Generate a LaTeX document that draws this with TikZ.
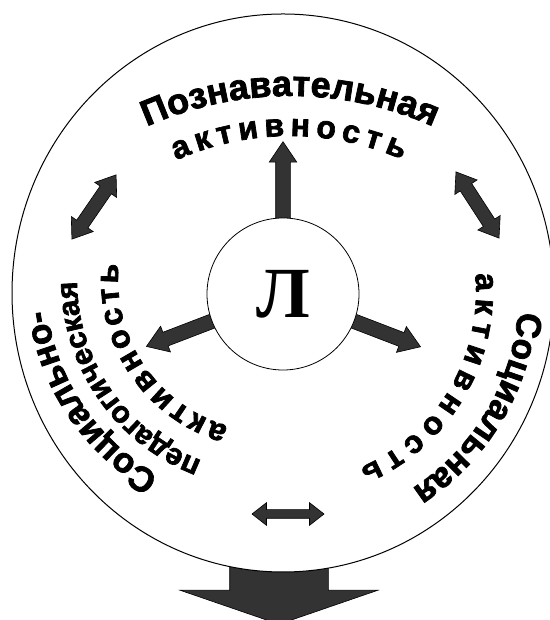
\documentclass[tikz,border=0pt]{standalone}
\usepackage{fontspec}
\setmainfont{Liberation Serif}
\newfontfamily\heavyfont[FakeBold=2.2]{Liberation Sans Bold}
\usetikzlibrary{shapes.arrows,decorations.text}
\definecolor{arrowgray}{RGB}{51,51,51}
\newcommand\namefont{\heavyfont\fontsize{36}{40}\selectfont}
\newcommand\sidefont{\heavyfont\fontsize{35}{40}\selectfont}
\newcommand\pedfont{\heavyfont\fontsize{30}{34}\selectfont}
\newcommand\actfont{\heavyfont\fontsize{32}{34}\selectfont}

\begin{document}
\begin{tikzpicture}[x=1pt,y=1pt,
  blockarrow/.style={single arrow,draw=black,fill=arrowgray,line width=0.6pt,inner xsep=0pt,
    inner ysep=7pt,single arrow head extend=6.5pt,single arrow tip angle=68},
  twoway/.style={double arrow,draw=black,fill=arrowgray,line width=0.6pt,inner xsep=0pt,
    inner ysep=6.5pt,double arrow head extend=6.5pt,double arrow tip angle=72},
  arcword/.style={decorate,decoration={text along path,text align=center,text={#1}}},
  spaced/.style={decorate,decoration={text along path,text align={fit to path},text={#1}}}]
\useasboundingbox (0,0) rectangle (549,620);
% result arrow under the circle
\node[blockarrow,rotate=-90,anchor=tail,minimum height=84pt,inner ysep=49pt,
  single arrow head extend=49.5pt,single arrow tip angle=142] (res) at (279,80) {};
\draw[fill=white,line width=1pt] (283,327) ellipse[x radius=271,y radius=279];
% personality and its three activities
\coordinate (c) at (283,326);
\node[blockarrow,rotate=90,anchor=tail,minimum height=86pt] (up) at ([shift={(90:66)}]c) {};
\node[blockarrow,rotate=201,anchor=tail,minimum height=80pt] (left) at ([shift={(201:66)}]c) {};
\node[blockarrow,rotate=-21,anchor=tail,minimum height=81pt] (right) at ([shift={(-21:66)}]c) {};
\node[circle,draw,fill=white,line width=0.8pt,minimum size=152pt,inner sep=0pt,
  font=\bfseries\fontsize{72}{72}\selectfont] (lich) at (c) {Л};
\node[twoway,rotate=55.5,minimum height=78pt] (dl) at (94,413) {};
\node[twoway,rotate=-57,minimum height=79pt] (dr) at (477.5,415) {};
\node[twoway,minimum height=72pt,inner ysep=4pt,double arrow head extend=7pt,
  double arrow tip angle=76] (db) at (288,106) {};
% texts on arcs
\path[arcword={|\namefont|Познавательная}] ([shift={(150:350)}]290,174) arc[start angle=150,end angle=30,radius=350];
\path[spaced={|\actfont|активность}] ([shift={(114.1:279)}]290,205) arc[start angle=114.1,end angle=66.3,radius=279];
\path[arcword={|\sidefont|Социальная}] ([shift={(9:234)}]285,328) arc[start angle=9,end angle=-71,radius=234];
\path[spaced={|\actfont|активность}] ([shift={(5.5:191)}]285,328) arc[start angle=5.5,end angle=-67,radius=191];
\path[arcword={|\sidefont|Социально-}] ([shift={(254.1:225)}]270,340) arc[start angle=254.1,end angle=174.1,radius=225];
\path[arcword={|\pedfont|педагогическая}] ([shift={(264.85:193)}]270,340) arc[start angle=264.85,end angle=164.85,radius=193];
\path[spaced={|\actfont|активность}] ([shift={(254:152)}]270,340) arc[start angle=254,end angle=174,radius=152];
\end{tikzpicture}
\end{document}
